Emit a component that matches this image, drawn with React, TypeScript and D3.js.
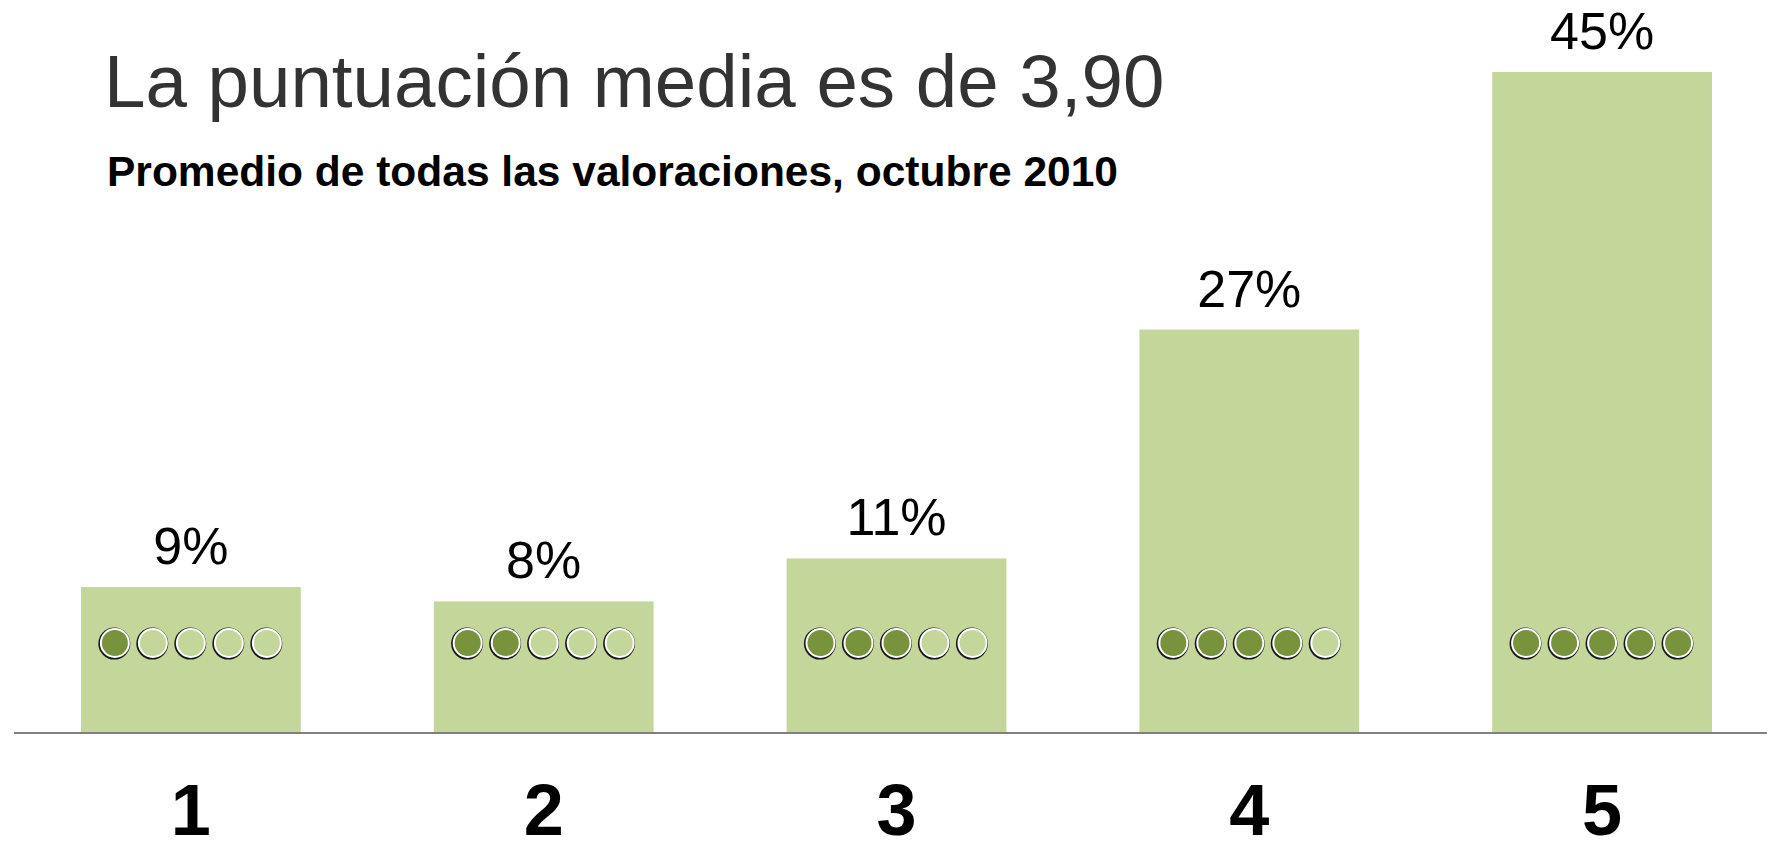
import React from 'react';
import { scaleBand, scaleLinear } from 'd3';

const categories = ['1', '2', '3', '4', '5'];
const shares = [9, 8, 11, 27, 45];
const shareLabels = ['9%', '8%', '11%', '27%', '45%'];
const filledDots = [1, 2, 3, 4, 5];

const title = 'La puntuación media es de 3,90';
const subtitle = 'Promedio de todas las valoraciones, octubre 2010';

const barColor = '#c4d79b';
const dotColor = '#77933c';

export default function App() {
  const width = 1767;
  const height = 851;
  const baseline = 733;

  const x = scaleBand()
    .domain(categories)
    .range([81, 1712])
    .paddingInner(0.377)
    .paddingOuter(0);

  // bars in the original sit on a small offset below zero
  const y = scaleLinear().domain([-1.2, 45]).range([baseline, 72]);

  const dotY = 643;
  const dotStep = 38;
  const dots = [0, 1, 2, 3, 4];

  return (
    <svg
      width={width}
      height={height}
      style={{ position: 'absolute', top: 0, left: 0, display: 'block', background: '#fff' }}
      fontFamily="'Liberation Sans', Arial, sans-serif"
    >
      <text x={104} y={107} fontSize={74.5} fill="#333333">{title}</text>
      <text x={107} y={186} fontSize={42.5} fontWeight="bold" fill="#000">{subtitle}</text>

      {categories.map((c, i) => {
        const bx = x(c) as number;
        const cx = bx + x.bandwidth() / 2;
        const top = y(shares[i]);
        return (
          <g key={c}>
            <rect x={bx} y={top} width={x.bandwidth()} height={baseline - top} fill={barColor} />
            <text x={cx} y={top - 23} fontSize={52} textAnchor="middle" fill="#000">
              {shareLabels[i]}
            </text>
            {dots.map((d) => {
              const dx = cx + (d - 2) * dotStep;
              return (
                <g key={d}>
                  <circle cx={dx - 0.6} cy={dotY + 0.6} r={16} fill="#1a1a1a" />
                  <circle cx={dx} cy={dotY} r={15} fill="#fff" />
                  <circle cx={dx} cy={dotY} r={13} fill={d < filledDots[i] ? dotColor : barColor} />
                </g>
              );
            })}
            <text x={cx} y={835} fontSize={72} fontWeight="bold" textAnchor="middle" fill="#000">
              {c}
            </text>
          </g>
        );
      })}

      <line x1={14} x2={width} y1={baseline} y2={baseline} stroke="#808080" strokeWidth={2} />
    </svg>
  );
}
